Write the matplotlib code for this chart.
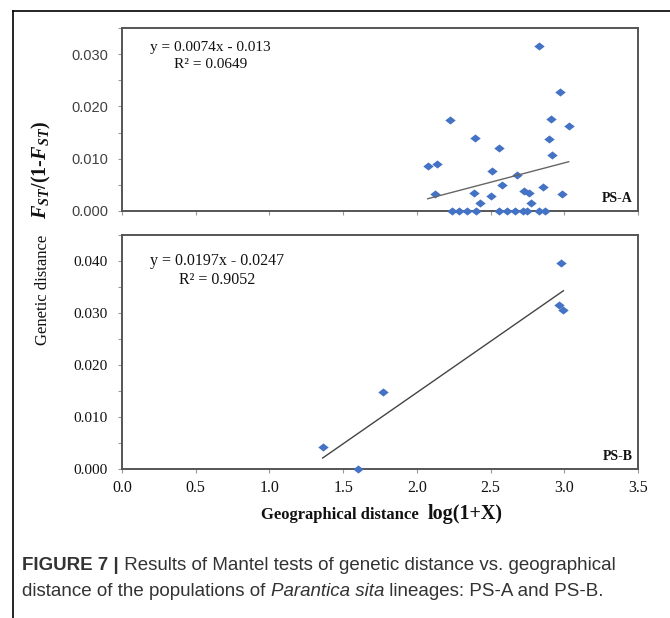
import matplotlib
matplotlib.use("Agg")
import matplotlib.pyplot as plt
import numpy as np
from matplotlib.lines import Line2D

plt.rcParams['mathtext.fontset'] = 'custom'
plt.rcParams['mathtext.rm'] = 'Liberation Serif'
plt.rcParams['mathtext.it'] = 'Liberation Serif:italic'
plt.rcParams['mathtext.bf'] = 'Liberation Serif:bold'
plt.rcParams['mathtext.bfit'] = 'Liberation Serif:italic:bold'

# ---- data: PS-A ----
psa_x = [2.831, 2.971, 2.225, 2.911, 3.030, 2.395, 2.895, 2.555, 2.917, 2.074,
         2.137, 2.510, 2.682, 2.578, 2.854, 2.126, 2.390, 2.503, 2.727, 2.763,
         2.983, 2.431, 2.777,
         2.239, 2.288, 2.338, 2.402, 2.560, 2.609, 2.668, 2.722, 2.749, 2.827, 2.867]
psa_y = [0.0316, 0.0228, 0.0175, 0.0176, 0.0163, 0.0140, 0.0137, 0.0120, 0.0107, 0.0087,
         0.0090, 0.0076, 0.0068, 0.0049, 0.0045, 0.0033, 0.0035, 0.0029, 0.0039, 0.0035,
         0.0032, 0.0016, 0.0015,
         0.0, 0.0, 0.0, 0.0, 0.0, 0.0, 0.0, 0.0, 0.0, 0.0, 0.0]
psa_slope, psa_icpt = 0.0074, -0.013
psa_eq = "y = 0.0074x - 0.013"
psa_r2 = "R² = 0.0649"

# ---- data: PS-B ----
psb_x = [2.981, 2.967, 2.994, 1.769, 1.361, 1.599]
psb_y = [0.0396, 0.0315, 0.0305, 0.0148, 0.00425, 0.0]
psb_slope, psb_icpt = 0.0197, -0.0247
psb_eq = "y = 0.0197x - 0.0247"
psb_r2 = "R² = 0.9052"

xticks = [0.0, 0.5, 1.0, 1.5, 2.0, 2.5, 3.0, 3.5]
xticklabels = ["0.0", "0.5", "1.0", "1.5", "2.0", "2.5", "3.0", "3.5"]
top_yticks = [0.0, 0.010, 0.020, 0.030]
top_yticklabels = ["0.000", "0.010", "0.020", "0.030"]
bot_yticks = [0.0, 0.010, 0.020, 0.030, 0.040]
bot_yticklabels = ["0.000", "0.010", "0.020", "0.030", "0.040"]

W, H = 670, 618
fig = plt.figure(figsize=(W / 100, H / 100), dpi=100)

def fx(px):
    return px / W

def fy(py):
    return 1 - py / H

marker = [(-1, 0), (0, 0.78), (1, 0), (0, -0.78)]
mcolor = '#4472C4'
serif = 'Liberation Serif'
spine_c = '#555555'

ax1 = fig.add_axes([fx(122), fy(211), fx(638) - fx(122), fy(28) - fy(211)])
ax2 = fig.add_axes([fx(122), fy(469), fx(638) - fx(122), fy(235) - fy(469)])

def style(ax, ymax, yticks, ylabels, yfont, ycolor, show_x):
    ax.set_xlim(0, 3.5)
    ax.set_ylim(0, ymax)
    for s in ax.spines.values():
        s.set_color(spine_c)
        s.set_linewidth(1.4)
    ax.set_xticks(xticks)
    if show_x:
        ax.set_xticklabels(xticklabels, fontfamily=serif, fontsize=11.5, color='#111111')
    else:
        ax.set_xticklabels([])
    ax.set_yticks(yticks)
    ax.set_yticklabels(ylabels, fontfamily=yfont, fontsize=11 if yfont == serif else 10.5, color=ycolor)
    ax.set_yticks(np.arange(0.005, ymax + 1e-9, 0.01), minor=True)
    ax.tick_params(axis='both', which='both', direction='out', length=3, width=0.8, color='#999999')
    ax.tick_params(axis='y', which='major', pad=7)
    ax.tick_params(axis='x', which='major', pad=5)
    ax.set_facecolor('white')

style(ax1, 0.035, top_yticks, top_yticklabels, 'Liberation Sans', '#404040', False)
style(ax2, 0.045, bot_yticks, bot_yticklabels, serif, '#111111', True)

# PS-A
ax1.plot(psa_x, psa_y, linestyle='none', marker=marker, markersize=7.5,
         color=mcolor, markeredgewidth=0, clip_on=False, zorder=3)
xa = np.array([min(psa_x), max(psa_x)])
ax1.plot(xa, psa_slope * xa + psa_icpt, color='#666666', linewidth=1.0, zorder=4)
ax1.text(0.171, 0.896, psa_eq, transform=ax1.transAxes, ha='center', va='center',
         fontfamily=serif, fontsize=11, color='#111111')
ax1.text(0.171, 0.798, psa_r2, transform=ax1.transAxes, ha='center', va='center',
         fontfamily=serif, fontsize=11, color='#111111')
ax1.text(0.99, 0.066, "PS-A", transform=ax1.transAxes, ha='right', va='center',
         fontfamily=serif, fontsize=10, fontweight='bold', color='#111111')

# PS-B
ax2.plot(psb_x, psb_y, linestyle='none', marker=marker, markersize=7.5,
         color=mcolor, markeredgewidth=0, clip_on=False, zorder=3)
xb = np.array([min(psb_x), max(psb_x)])
ax2.plot(xb, psb_slope * xb + psb_icpt, color='#444444', linewidth=1.0, zorder=4)
ax2.text(0.184, 0.889, psb_eq, transform=ax2.transAxes, ha='center', va='center',
         fontfamily=serif, fontsize=11.5, color='#111111')
ax2.text(0.184, 0.808, psb_r2, transform=ax2.transAxes, ha='center', va='center',
         fontfamily=serif, fontsize=11.5, color='#111111')
ax2.text(0.99, 0.053, "PS-B", transform=ax2.transAxes, ha='right', va='center',
         fontfamily=serif, fontsize=10, fontweight='bold', color='#111111')

# axis labels
fig.text(fx(43), fy(290), "Genetic distance", rotation=90, ha='center', va='center',
         fontfamily=serif, fontsize=12, color='#111111')
fig.text(fx(41), fy(170), r"$\mathbfit{F}_{\mathbfit{ST}}$/(1-$\mathbfit{F}_{\mathbfit{ST}}$)",
         rotation=90, ha='center', va='center', fontfamily=serif, fontsize=14.5,
         fontweight='bold', color='#111111')
fig.text(fx(419), fy(515), "Geographical distance", ha='right', va='center',
         fontfamily=serif, fontsize=12, fontweight='bold', color='#111111')
fig.text(fx(428), fy(514), "log(1+X)", ha='left', va='center',
         fontfamily=serif, fontsize=14.5, fontweight='bold', color='#111111')

# outer frame
fig.add_artist(Line2D([fx(13), 1.0], [fy(11), fy(11)], color='black', linewidth=1.2))
fig.add_artist(Line2D([fx(13), fx(13)], [0.0, fy(11)], color='black', linewidth=1.2))

# caption (pieces chained left to right)
renderer = fig.canvas.get_renderer()
cap_size = 13.5
cap_color = '#333333'

def chain(pieces, x0, ypx):
    x = x0
    for txt, kw in pieces:
        t = fig.text(fx(x), fy(ypx), txt, ha='left', va='center', fontfamily='Liberation Sans',
                     fontsize=cap_size, color=cap_color, **kw)
        bb = t.get_window_extent(renderer=renderer)
        x += bb.width

chain([("FIGURE 7 |", dict(fontweight='bold')),
       (" Results of Mantel tests of genetic distance vs. geographical", {})], 22, 566)
chain([("distance of the populations of ", {}),
       ("Parantica sita", dict(fontstyle='italic')),
       (" lineages: PS-A and PS-B.", {})], 22, 592)

fig.savefig("out.png", dpi=100)
